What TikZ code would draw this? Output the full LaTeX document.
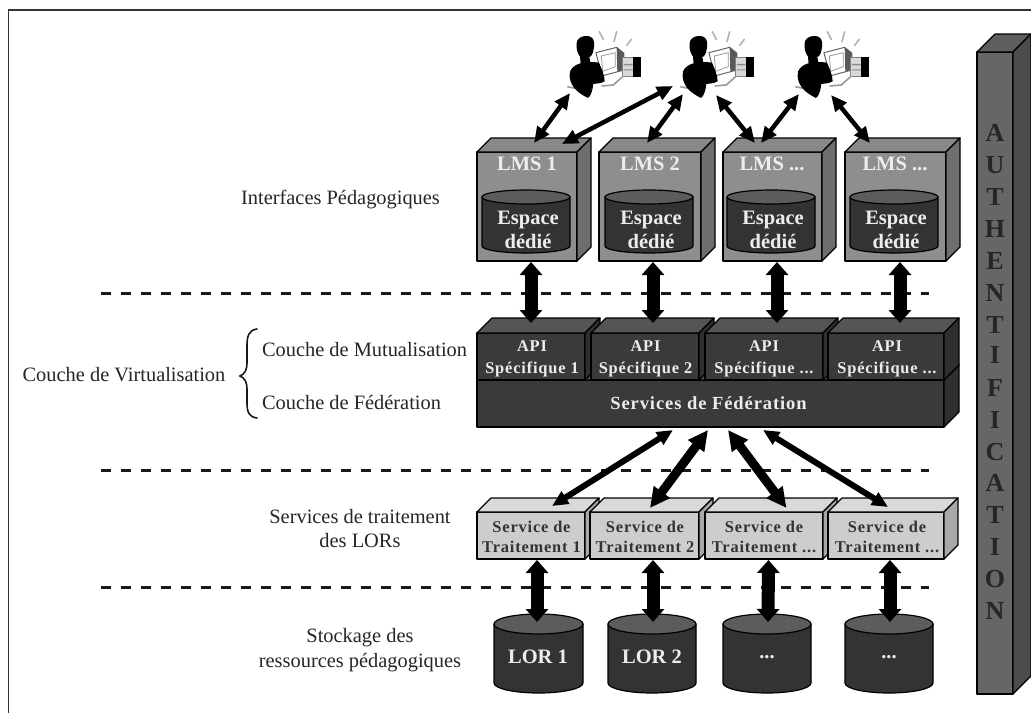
\documentclass[tikz,border=0pt]{standalone}
\usepackage{fontspec}
\setmainfont{Liberation Serif}
\newfontfamily\srvfont[LetterSpace=5]{Liberation Serif}
\usetikzlibrary{arrows.meta}
\definecolor{lmsfront}{HTML}{8E8E8E}
\definecolor{lmstop}{HTML}{888888}
\definecolor{lmsside}{HTML}{6E6E6E}
\definecolor{apifront}{HTML}{3A3A3A}
\definecolor{apitop}{HTML}{555555}
\definecolor{apiside}{HTML}{2F2F2F}
\definecolor{srvfront}{HTML}{CDCDCD}
\definecolor{srvtop}{HTML}{D9D9D9}
\definecolor{srvside}{HTML}{A8A8A8}
\definecolor{pilfront}{HTML}{666666}
\definecolor{piltop}{HTML}{5E5E5E}
\definecolor{pilside}{HTML}{4C4C4C}
\definecolor{cylbody}{HTML}{333333}
\definecolor{cyltop}{HTML}{5C5C5C}
\definecolor{lightwhite}{HTML}{EDEDED}
\tikzset{
  x=1pt,y=-1pt,
  edge/.style={draw=black,line width=1.2pt,line join=round},
  ghost/.style={inner sep=0pt,outer sep=0pt},
  lbl/.style={inner sep=0pt,outer sep=0pt,align=center,font=\fontsize{20.4}{25}\selectfont,text=black!85},
  lmstext/.style={inner sep=0pt,align=center,text=lightwhite,font=\fontsize{20.5}{24}\selectfont\bfseries},
  apitext/.style={inner sep=0pt,align=center,text=lightwhite,font=\srvfont\fontsize{16.4}{22}\selectfont\bfseries},
  srvtext/.style={inner sep=0pt,align=center,text=black!80,font=\srvfont\fontsize{16.4}{20}\selectfont\bfseries},
  dbl/.style={line width=4.5pt,{Triangle[width=14pt,length=16pt]}-{Triangle[width=14pt,length=16pt]}},
  dblb/.style={line width=9pt,{Triangle[width=19pt,length=20pt]}-{Triangle[width=19pt,length=20pt]}},
  dblc/.style={line width=13pt,{Triangle[width=22pt,length=13pt]}-{Triangle[width=22pt,length=13pt]}},
  sep/.style={line width=3pt,dash pattern=on 10pt off 10pt,black!90}
}
% name, x0, y0, w, h, dx, dy, front, top, side
\newcommand\cube[9]{%
  \node[edge,ghost,fill=#7,anchor=north west,minimum width=#4pt,minimum height=#5pt] (#1) at (#2,#3) {};
  \fill[#8,edge] (#1.north west) -- ++(#6,-#6) -- ++(#4,0) -- ++(-#6,#6) -- cycle;
  \fill[#9,edge] (#1.north east) -- ++(#6,-#6) -- ++(0,#5) -- ++(-#6,#6) -- cycle;
}
% name, x0, y top, w, h, ry
\newcommand\cyl[6]{%
  \node[ghost,anchor=north west,minimum width=#4pt,minimum height=#5pt] (#1) at (#2,#3) {};
  \fill[cylbody,edge] ([yshift=-#6pt]#1.north west) -- ([yshift=#6pt]#1.south west)
     arc[start angle=180,end angle=360,x radius=#4pt/2,y radius=#6pt]
     -- ([yshift=-#6pt]#1.north east) -- cycle;
  \fill[cyltop,edge] ([yshift=-#6pt]#1.north) ellipse[x radius=#4pt/2,y radius=#6pt];
}
\newcommand\person[1]{%
  \begin{scope}[shift={(#1,0)},x=0.3333pt,y=-0.3333pt]
    % rays
    \draw[black!30,line width=1.6pt,line cap=round] (418,95)--(430,118) (470,95)--(462,125) (514,118)--(500,136);
    % monitor
    \fill[white,draw=black!60,line width=1pt] (408,158)--(470,142)--(492,160)--(492,210)--(425,228)--cycle;
    \fill[black!65] (470,142)--(492,160)--(492,210)--(472,214)--cycle;
    \fill[white,draw=black!40,line width=0.8pt] (424,168)--(466,158)--(466,200)--(428,214)--cycle;
    % tower
    \fill[black!15,draw=black!50,line width=0.6pt] (488,172) rectangle (520,230);
    \fill[black!45] (492,192) rectangle (518,196) (492,208) rectangle (518,211);
    \fill[black] (518,170) rectangle (542,230);
    % desk
    \draw[black!40,line width=1.6pt] (425,258)--(460,255)--(490,228) (322,260)--(350,266);
    % person
    \fill[black] (350,130) .. controls (350,105) and (398,98) .. (402,125) .. controls (404,148) and (398,168) .. (388,172) -- (392,192) -- (362,192) -- (360,170) .. controls (350,155) and (349,145) .. (350,130) -- cycle;
    \fill[black] (330,215) .. controls (338,193) and (370,181) .. (417,188) .. controls (424,205) and (434,225) .. (434,244) .. controls (420,252) and (408,250) .. (400,252) .. controls (398,268) and (394,287) .. (384,294) .. controls (370,287) and (353,277) .. (343,264) .. controls (333,252) and (326,235) .. (330,215) -- cycle;
  \end{scope}
}
\begin{document}
\begin{tikzpicture}
\useasboundingbox (0,0) rectangle (1031,713);
\fill[white] (0,0) rectangle (1031,713);
% frame
\draw[black!80,line width=1.5pt] (1031,10) -- (8.5,10) -- (8.5,713);
% separators
\coordinate (s1a) at (101,293); \coordinate (s1b) at (929,293);
\coordinate (s2a) at (101,470); \coordinate (s2b) at (929,470);
\coordinate (s3a) at (101,587.5); \coordinate (s3b) at (929,587.5);
\draw[sep] (s1a) -- (s1b);
\draw[sep] (s2a) -- (s2b);
\draw[sep] (s3a) -- (s3b);
% left labels
\node[lbl] (tif) at (340.5,200) {Interfaces Pédagogiques};
\node[lbl] (tvi) at (124,375) {Couche de Virtualisation};
\node[lbl,anchor=west] (tmu) at (262,350) {Couche de Mutualisation};
\node[lbl,anchor=west] (tfe) at (262,402) {Couche de Fédération};
\node[lbl,font=\fontsize{20.4}{23.5}\selectfont] (tsr) at (360,528.5) {Services de traitement\\des LORs};
\node[lbl,font=\fontsize{20.4}{25}\selectfont] (tst) at (360,650.5) {Stockage des\\ressources pédagogiques};
% brace
\draw[black!90,line width=1.6pt,line cap=round] (257,329) .. controls (249,330) and (247,336) .. (247,345) -- (247,362) .. controls (247,370) and (245,374) .. (240,376) .. controls (245,378) and (247,382) .. (247,390) -- (247,403) .. controls (247,412) and (249,417) .. (257,418);
% LMS
\cube{lms1}{477}{152}{100}{109}{14}{lmsfront}{lmstop}{lmsside}
\cube{lms2}{599}{152}{102}{109}{14}{lmsfront}{lmstop}{lmsside}
\cube{lms3}{723}{152}{99}{109}{14}{lmsfront}{lmstop}{lmsside}
\cube{lms4}{845}{152}{101}{109}{14}{lmsfront}{lmstop}{lmsside}
\cyl{sp1}{482}{190}{88}{63}{7}
\cyl{sp2}{605}{190}{88}{63}{7}
\cyl{sp3}{727}{190}{88}{63}{7}
\cyl{sp4}{850}{190}{88}{63}{7}
\node[lmstext] (ll1) at (527,164) {LMS 1};
\node[lmstext] (ll2) at (650,164) {LMS 2};
\node[lmstext] (ll3) at (772,164) {LMS ...};
\node[lmstext] (ll4) at (895,164) {LMS ...};
\node[lmstext] (le1) at (528,229.5) {Espace\\dédié};
\node[lmstext] (le2) at (651,229.5) {Espace\\dédié};
\node[lmstext] (le3) at (773,229.5) {Espace\\dédié};
\node[lmstext] (le4) at (896,229.5) {Espace\\dédié};
% federation + API
\cube{fed}{477}{380}{467}{47}{15}{apifront}{apitop}{apiside}
\node[lmstext,font=\srvfont\fontsize{18.5}{20}\selectfont\bfseries] (fedt) at (708.5,403) {Services de Fédération};
\cube{api1}{477}{333}{108}{47}{15}{apifront}{apitop}{apiside}
\cube{api2}{591}{333}{108}{47}{15}{apifront}{apitop}{apiside}
\cube{api3}{705}{333}{118}{47}{15}{apifront}{apitop}{apiside}
\cube{api4}{828}{333}{116}{47}{15}{apifront}{apitop}{apiside}
\node[apitext] (at1) at (532,359) {API\\Spécifique 1};
\node[apitext] (at2) at (645.5,359) {API\\Spécifique 2};
\node[apitext] (at3) at (764,359) {API\\Spécifique ...};
\node[apitext] (at4) at (887,359) {API\\Spécifique ...};
% services
\cube{srv1}{477}{512}{108}{47}{14}{srvfront}{srvtop}{srvside}
\cube{srv2}{590}{512}{109}{47}{14}{srvfront}{srvtop}{srvside}
\cube{srv3}{705}{512}{118}{47}{14}{srvfront}{srvtop}{srvside}
\cube{srv4}{828}{512}{116}{47}{14}{srvfront}{srvtop}{srvside}
\node[srvtext] (st1) at (531.5,537) {Service de\\Traitement 1};
\node[srvtext] (st2) at (645,537) {Service de\\Traitement 2};
\node[srvtext] (st3) at (764,537) {Service de\\Traitement ...};
\node[srvtext] (st4) at (887,537) {Service de\\Traitement ...};
% LORs
\cyl{lor1}{494}{614}{89}{79}{10}
\cyl{lor2}{608}{614}{88}{79}{10}
\cyl{lor3}{723}{614}{88}{79}{10}
\cyl{lor4}{845}{614}{88}{79}{10}
\node[lmstext] (lt1) at (538,657) {LOR 1};
\node[lmstext] (lt2) at (652,657) {LOR 2};
\node[lmstext] (lt3) at (767,657) {...};
\node[lmstext] (lt4) at (889,657) {...};
% authentification pillar
\cube{auth}{977}{52}{36}{642}{18}{pilfront}{piltop}{pilside}
\foreach \c/\yy [count=\i] in {A/133,U/165,T/197,H/229,E/261,N/293,T/325,I/355,F/388,I/420,C/452,A/483,T/515,I/547,O/579,N/611}
  \node[inner sep=0pt,text=black!85,font=\fontsize{26}{28}\selectfont\bfseries] (au\i) at (995,\yy) {\c};
% persons
\person{460}
\person{573}
\person{688}
\node[ghost,minimum width=70pt,minimum height=66pt] (p1) at (605,63) {};
\node[ghost,minimum width=70pt,minimum height=66pt] (p2) at (718,63) {};
\node[ghost,minimum width=70pt,minimum height=66pt] (p3) at (833,63) {};
% connectors top
\draw[dbl] ([shift={(-35,30)}]p1.center) -- ([shift={(7,-9)}]lms1.north);
\draw[dbl] ([shift={(35,-8)}]lms1.north) -- ([shift={(-45,23)}]p2.center);
\draw[dbl] ([shift={(-3,-9)}]lms2.north) -- ([shift={(-35,31)}]p2.center);
\draw[dbl] ([shift={(-2,32)}]p2.center) -- ([shift={(-17.5,-9)}]lms3.north);
\draw[dbl] ([shift={(-11.5,-9)}]lms3.north) -- ([shift={(-34,31)}]p3.center);
\draw[dbl] ([shift={(-2,32)}]p3.center) -- ([shift={(-25.5,-9)}]lms4.north);
% LMS - API
\draw[dblc] ([shift={(4,1)}]lms1.south) -- ([shift={(0,-10)}]api1.north);
\draw[dblc] ([shift={(3,1)}]lms2.south) -- ([shift={(8,-10)}]api2.north);
\draw[dblc] ([shift={(4.5,1)}]lms3.south) -- ([shift={(13,-10)}]api3.north);
\draw[dblc] ([shift={(4.5,1)}]lms4.south) -- ([shift={(14,-10)}]api4.north);
% federation - services
\draw[dbl,line width=6pt] ([shift={(-37.5,3)}]fed.south) -- ([shift={(21,-6)}]srv1.north);
\draw[dblb] ([shift={(-2.5,3)}]fed.south) -- ([shift={(5.5,-4)}]srv2.north);
\draw[dblb] ([shift={(17.5,3)}]fed.south) -- ([shift={(22.5,-4)}]srv3.north);
\draw[dbl,line width=6pt] ([shift={(52.5,3)}]fed.south) -- ([shift={(2,-5)}]srv4.north);
% services - LOR
\draw[dblc] ([shift={(6,1)}]srv1.south) -- ([shift={(-1.5,8)}]lor1.north);
\draw[dblc] ([shift={(8.5,1)}]srv2.south) -- ([shift={(1,8)}]lor2.north);
\draw[dblc] ([shift={(4.5,1)}]srv3.south) -- ([shift={(1,8)}]lor3.north);
\draw[dblc] ([shift={(4,1)}]srv4.south) -- ([shift={(1,8)}]lor4.north);
\end{tikzpicture}
\end{document}
